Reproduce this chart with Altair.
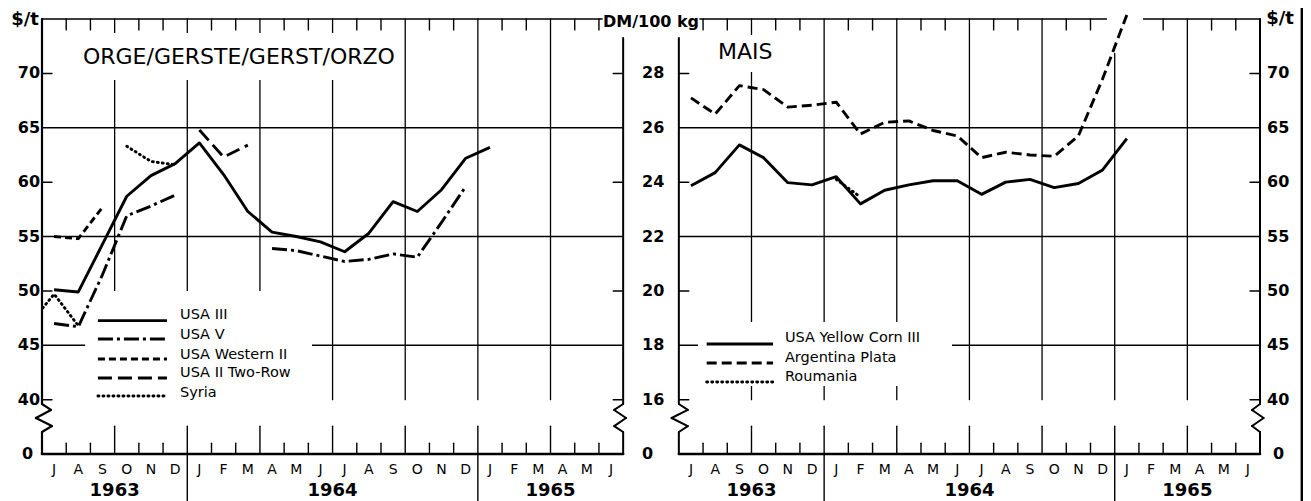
import altair as alt
import pandas as pd

# ---------------- data ----------------
MONTH_LABELS = ["J", "A", "S", "O", "N", "D", "J", "F", "M", "A", "M", "J",
                "J", "A", "S", "O", "N", "D", "J", "F", "M", "A", "M", "J"]
YEAR_LABELS = ["1963", "1964", "1965"]
YEAR_CENTRES = [3, 12, 21]
YEAR_BREAKS = [6, 18]

# Barley, $/t (month 0 = July 1963)
usa_iii = [50.1, 49.9, 54.3, 58.7, 60.6, 61.7, 63.6, 60.7, 57.3, 55.4,
           55.0, 54.5, 53.6, 55.3, 58.2, 57.3, 59.3, 62.2, 63.2]
usa_v_1963 = [47.0, 46.7, 51.5, 56.9, 57.8, 58.8]                     # Jul-Dec 1963
usa_v_1964 = [53.9, 53.7, 53.2, 52.7, 52.9, 53.4, 53.1, 56.3, 59.6]   # Apr-Dec 1964
usa_western_ii = [55.0, 54.8, 57.7]      # Jul-Sep 1963
usa_ii_two_row = [64.8, 62.3, 63.4]      # Jan-Mar 1964
syria_a = [47.0, 49.7, 46.8]             # Jun-Aug 1963
syria_b = [63.3, 61.9, 61.6]             # Oct-Dec 1963

# Maize, DM/100 kg (month 0 = July 1963)
yellow_corn_iii = [23.87, 24.35, 25.37, 24.9, 23.98, 23.9, 24.2, 23.2, 23.7, 23.9,
                   24.05, 24.05, 23.55, 24.0, 24.1, 23.8, 23.95, 24.45, 25.6]
argentina_plata = [27.1, 26.5, 27.55, 27.4, 26.76, 26.83, 26.94, 25.77, 26.2, 26.25,
                   25.9, 25.7, 24.9, 25.1, 25.0, 24.95, 25.7, 27.8, 30.15]
roumania = [24.1, 23.45]                 # Jan-Feb 1964

USD_TICKS = [40, 45, 50, 55, 60, 65, 70]
DM_TICKS = [16, 18, 20, 22, 24, 26, 28]
GRID_USD = [45, 55, 65]
USD_PER_DM = 2.5          # 4 DM/100 kg = 10 $/t

LEFT_LEGEND = ["USA III", "USA V", "USA Western II", "USA II Two-Row", "Syria"]
RIGHT_LEGEND = ["USA Yellow Corn III", "Argentina Plata", "Roumania"]

# ---------------- layout constants ----------------
W, H = 1218, 435
OFF = 26.3                      # offset of the maize panel on the month axis
XS = alt.Scale(domain=[0, 50.3], nice=False, zero=False)
YS = alt.Scale(domain=[35, 75], nice=False, zero=False)
FONT = "DejaVu Sans"


def X(f="x"):
    return alt.X(f"{f}:Q", scale=XS, axis=None)


def Y(f="y"):
    return alt.Y(f"{f}:Q", scale=YS, axis=None)


# ---------------- series table ----------------
rows = []


def add(name, panel, start, values, seg, dm=False):
    for i, v in enumerate(values):
        rows.append({
            "name": name, "seg": f"{name}-{seg}", "o": i,
            "x": start + i + 0.5 + (OFF if panel else 0),
            "y": v * USD_PER_DM if dm else v,
        })


add("USA III", 0, 0, usa_iii, 0)
add("USA V", 0, 0, usa_v_1963, 0)
add("USA V", 0, 9, usa_v_1964, 1)
add("USA Western II", 0, 0, usa_western_ii, 0)
add("USA II Two-Row", 0, 6, usa_ii_two_row, 0)
add("Syria", 0, -1, syria_a, 0)
add("Syria", 0, 3, syria_b, 1)
add("USA Yellow Corn III", 1, 0, yellow_corn_iii, 0, dm=True)
add("Argentina Plata", 1, 0, argentina_plata, 0, dm=True)
add("Roumania", 1, 6, roumania, 0, dm=True)
series = pd.DataFrame(rows)

STYLE = {
    "USA III": [],
    "USA V": [15, 4, 3, 4],
    "USA Western II": [7, 4],
    "USA II Two-Row": [14, 6],
    "Syria": [1, 4],
    "USA Yellow Corn III": [],
    "Argentina Plata": [10, 5],
    "Roumania": [1, 4],
}

# ---------------- frame / grid segments ----------------
segs = []


def seg(x, y, x2, y2, w):
    segs.append({"x": x, "y": y, "x2": x2, "y2": y2, "w": w})


def poly(pts, w):
    for (a, b), (c, d) in zip(pts[:-1], pts[1:]):
        seg(a, b, c, d, w)


for base in (0, OFF):
    seg(base, 35, base + 24, 35, 2.6)
    for g in GRID_USD:
        seg(base, g, base + 24, g, 1.3)
    for q in range(3, 24, 3):
        seg(base + q, 75, base + q, 40, 1.3)
    for i in range(1, 24):
        seg(base + i, 35, base + i, 37.55 if i % 3 == 0 else 36.0, 1.4)
        if i % 3:
            seg(base + i, 75, base + i, 74.0, 1.4)
    for b in YEAR_BREAKS:
        seg(base + b, 35, base + b, 30.68, 1.4)

# top edges
seg(0, 75, 23.13, 75, 1.6)
seg(27.17, 75, 43.98, 75, 1.6)
seg(45.47, 75, OFF + 24, 75, 1.6)


def zig(x0, top, d1, d2, d3):
    return [(x0, top), (x0, 39.6), (x0 + d1, 39.05), (x0 + d2, 38.31),
            (x0 + d3, 37.57), (x0, 37.02), (x0, 35)]


poly(zig(0, 75, 0.37, -0.25, 0.41), 2.2)
poly(zig(24, 73.25, -0.37, 0.12, -0.37), 2.0)
poly(zig(OFF, 73.25, 0.37, -0.3, 0.37), 2.0)
poly(zig(OFF + 24, 75, -0.33, 0.15, -0.33), 2.0)

for v in [40, 50, 60, 70]:
    seg(0, v, 0.41, v, 1.5)
    seg(23.59, v, 24, v, 1.5)
    seg(OFF, v, OFF + 0.41, v, 1.5)
    seg(OFF + 23.59, v, OFF + 24, v, 1.5)

# page border on the right
seg(52.03, 76.2, 52.03, 30.6, 2.6)
segments = pd.DataFrame(segs)

# ---------------- white masks (legend / title areas) ----------------
masks = pd.DataFrame([
    {"x": 1.78, "x2": 11.15, "y": 39.8, "y2": 50.0},
    {"x": 27.09, "x2": 37.58, "y": 41.25, "y2": 47.14},
    {"x": 1.57, "x2": 14.45, "y": 69.39, "y2": 73.71},
    {"x": 27.71, "x2": 30.48, "y": 70.13, "y2": 73.53},
    {"x": 43.98, "x2": 45.47, "y": 71.87, "y2": 76.0},
])

# ---------------- legend ----------------
leg_rows, leg_text = [], []
for i, (name, ly, ty) in enumerate(zip(LEFT_LEGEND,
                                       [47.26, 45.57, 43.74, 41.99, 40.33],
                                       [47.78, 45.94, 44.10, 42.45, 40.61])):
    leg_rows += [{"name": name, "x": 2.31, "y": ly, "o": 0},
                 {"name": name, "x": 5.16, "y": ly, "o": 1}]
    leg_text.append({"x": 5.70, "y": ty, "t": name})
for name, ly, ty in zip(RIGHT_LEGEND, [45.11, 43.37, 41.62], [45.67, 43.83, 42.08]):
    leg_rows += [{"name": name, "x": 27.45, "y": ly, "o": 0},
                 {"name": name, "x": 30.19, "y": ly, "o": 1}]
    leg_text.append({"x": 30.68, "y": ty, "t": name})
legend_lines = pd.DataFrame(leg_rows)
legend_text = pd.DataFrame(leg_text)

# ---------------- text tables ----------------
left_lab = pd.DataFrame([{"x": -0.08, "y": v, "t": str(v)} for v in USD_TICKS]
                        + [{"x": -0.37, "y": 35, "t": "0"}])
dm_lab = pd.DataFrame([{"x": 24.78, "y": d * USD_PER_DM, "t": str(d)} for d in DM_TICKS]
                      + [{"x": 24.78, "y": 35, "t": "0"}])
right_lab = pd.DataFrame([{"x": 50.59, "y": v, "t": str(v)} for v in USD_TICKS]
                         + [{"x": 50.84, "y": 35, "t": "0"}])
month_lab = pd.DataFrame([{"x": base + i + 0.5, "y": 33.53, "t": m}
                          for base in (0, OFF) for i, m in enumerate(MONTH_LABELS)])
year_lab = pd.DataFrame([{"x": base + c, "y": 31.6, "t": t}
                         for base in (0, OFF) for c, t in zip(YEAR_CENTRES, YEAR_LABELS)])
unit_lab = pd.DataFrame([{"x": -0.70, "y": 74.91, "t": "$/t"},
                         {"x": 51.13, "y": 75.0, "t": "$/t"}])
dm_unit = pd.DataFrame([{"x": 25.15, "y": 74.72, "t": "DM/100 kg"}])
titles = pd.DataFrame([{"x": 1.69, "y": 71.51, "t": "ORGE/GERSTE/GERST/ORZO"},
                       {"x": 27.92, "y": 71.97, "t": "MAIS"}])

# ---------------- layers ----------------
layers = []
layers.append(alt.Chart(segments).mark_rule(color="black", strokeCap="round").encode(
    x=X(), y=Y(), x2="x2:Q", y2="y2:Q",
    strokeWidth=alt.StrokeWidth("w:Q", scale=None)))
layers.append(alt.Chart(masks).mark_rect(color="white").encode(
    x=X(), y=Y(), x2="x2:Q", y2="y2:Q"))

for name, dash in STYLE.items():
    dotted = dash == [1, 4]
    kw = dict(color="black", strokeWidth=2.9, strokeJoin="round",
              strokeCap="round" if dotted else "butt")
    if dash:
        kw["strokeDash"] = dash
    if name == "Syria":
        kw["clip"] = True
    layers.append(alt.Chart(series[series["name"] == name]).mark_line(**kw).encode(
        x=X(), y=Y(), detail="seg:N", order="o:Q"))
    kw.pop("clip", None)
    layers.append(alt.Chart(legend_lines[legend_lines["name"] == name]).mark_line(**kw).encode(
        x=X(), y=Y(), order="o:Q"))


def text_layer(df, size, align="center", weight="normal"):
    return alt.Chart(df).mark_text(font=FONT, fontSize=size, align=align, baseline="middle",
                                   fontWeight=weight, color="black").encode(
        x=X(), y=Y(), text="t:N")


layers += [
    text_layer(left_lab, 16, "right", "bold"),
    text_layer(dm_lab, 16, "left", "bold"),
    text_layer(right_lab, 16, "left", "bold"),
    text_layer(month_lab, 14, "center", "normal"),
    text_layer(year_lab, 18, "center", "bold"),
    text_layer(unit_lab, 18, "center", "bold"),
    text_layer(dm_unit, 16, "center", "bold"),
    text_layer(titles, 22, "left", "normal"),
    text_layer(legend_text, 14.5, "left", "normal"),
]

chart = alt.layer(*layers).properties(
    width=W, height=H,
    autosize=alt.AutoSizeParams(type="none"),
    padding={"left": 34, "top": 11, "right": 43, "bottom": 47},
    background="white",
).configure_view(stroke=None)

chart.save("out.html", embed_options={"renderer": "svg", "actions": False})
